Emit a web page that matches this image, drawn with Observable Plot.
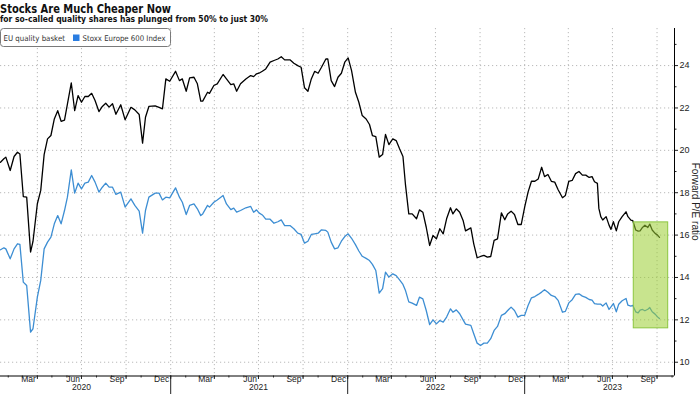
<!DOCTYPE html>
<html>
<head>
<meta charset="utf-8">
<script src="https://cdn.jsdelivr.net/npm/d3@7"></script>
<script src="https://cdn.jsdelivr.net/npm/@observablehq/plot@0.6"></script>
<style>
  html, body { margin: 0; padding: 0; background: #fff; }
  #wrap { position: relative; width: 700px; height: 394px; overflow: hidden; background: #fff; }
  #chart { position: absolute; left: 0; top: 28px; }
  #hdr { position: absolute; left: 0; top: 0; z-index: 2; pointer-events: none; }
</style>
</head>
<body>
<div id="wrap">
  <div id="chart"></div>
  <svg id="hdr" width="700" height="50"></svg>
</div>
<script>
// ---- data ----
const dates = [
"2020-01-16","2020-01-23","2020-01-27","2020-02-05","2020-02-13","2020-02-20","2020-02-25","2020-03-03","2020-03-10","2020-03-18",
"2020-03-23","2020-04-01","2020-04-08","2020-04-15","2020-04-22","2020-04-29","2020-05-06","2020-05-13","2020-05-20","2020-05-27",
"2020-06-02","2020-06-10","2020-06-17","2020-06-24","2020-07-01","2020-07-08","2020-07-15","2020-07-22","2020-07-29","2020-08-06",
"2020-08-13","2020-08-20","2020-08-27","2020-09-03","2020-09-10","2020-09-20","2020-09-29","2020-10-11","2020-10-19","2020-10-28",
"2020-11-04","2020-11-10","2020-11-17","2020-11-30","2020-12-08","2020-12-15","2020-12-22","2020-12-30","2021-01-11","2021-01-19",
"2021-01-25","2021-02-02","2021-02-09","2021-02-18","2021-02-25","2021-03-04","2021-03-08","2021-03-18","2021-03-22","2021-03-31",
"2021-04-07","2021-04-19","2021-04-26","2021-05-05","2021-05-11","2021-05-17","2021-05-25","2021-06-05","2021-06-15","2021-06-21",
"2021-06-27","2021-07-02","2021-07-09","2021-07-16","2021-07-25","2021-08-02","2021-08-10","2021-08-17","2021-08-24","2021-09-04",
"2021-09-12","2021-09-20","2021-09-27","2021-10-04","2021-10-11","2021-10-18","2021-10-25","2021-11-01","2021-11-08","2021-11-17",
"2021-11-21","2021-11-28","2021-12-05","2021-12-12","2021-12-19","2021-12-26","2022-01-02","2022-01-09","2022-01-17","2022-01-24",
"2022-01-31","2022-02-08","2022-02-15","2022-02-21","2022-02-28","2022-03-07","2022-03-14","2022-03-20","2022-03-27","2022-04-04",
"2022-04-11","2022-04-18","2022-04-25","2022-04-30","2022-05-07","2022-05-14","2022-05-23","2022-05-29","2022-06-05","2022-06-12",
"2022-06-19","2022-06-26","2022-07-03","2022-07-10","2022-07-17","2022-07-24","2022-08-01","2022-08-06","2022-08-13","2022-08-20",
"2022-08-27","2022-09-01","2022-09-12","2022-09-18","2022-09-25","2022-10-02","2022-10-09","2022-10-16","2022-10-23","2022-10-30",
"2022-11-06","2022-11-14","2022-11-21","2022-11-27","2022-12-04","2022-12-11","2022-12-18","2022-12-25","2023-01-01","2023-01-08",
"2023-01-15","2023-01-22","2023-01-29","2023-02-05","2023-02-11","2023-02-18","2023-02-25","2023-03-04","2023-03-11","2023-03-20",
"2023-03-26","2023-04-02","2023-04-09","2023-04-16","2023-04-23","2023-04-30","2023-05-07","2023-05-14","2023-05-20","2023-05-25",
"2023-05-31","2023-06-03","2023-06-07","2023-06-11","2023-06-18","2023-06-24","2023-06-28","2023-07-03","2023-07-09","2023-07-14",
"2023-07-21","2023-07-29","2023-08-02","2023-08-08","2023-08-12","2023-08-18","2023-08-23","2023-08-27","2023-09-01","2023-09-06",
"2023-09-12","2023-09-16","2023-09-21","2023-09-27","2023-10-02","2023-10-06"
];
const quality = [
19.44,19.60,19.68,19.05,19.71,19.91,19.83,17.82,17.79,15.20,
15.70,17.48,18.11,19.80,20.54,20.70,21.48,21.87,21.37,21.43,
22.18,23.18,21.87,22.58,22.27,22.54,22.54,22.69,22.35,21.83,
22.07,22.22,22.04,22.20,21.70,22.15,21.44,22.03,21.91,21.69,
20.34,21.56,22.07,22.10,22.03,21.96,23.37,23.26,23.73,23.29,
23.37,22.79,23.42,23.45,23.14,22.32,22.32,22.74,22.69,23.06,
23.14,23.58,23.37,23.10,23.14,22.79,23.14,23.37,23.53,23.48,
23.61,23.64,23.73,23.84,24.16,24.24,24.31,24.42,24.27,24.27,
24.11,24.00,23.92,22.95,22.79,23.37,23.73,23.64,23.92,24.31,
24.31,23.29,23.01,23.45,23.64,24.16,24.36,23.76,22.74,22.27,
21.64,21.48,21.22,20.70,20.65,19.68,19.80,20.75,20.27,20.54,
20.46,20.07,19.71,18.42,17.00,17.00,16.77,17.19,17.08,16.37,
15.51,15.98,15.82,16.30,16.06,16.77,17.29,17.00,17.24,17.08,
16.69,16.20,16.34,15.59,14.93,14.99,15.04,14.96,14.99,15.75,
15.82,17.05,16.72,17.00,17.13,16.97,16.50,16.50,17.32,18.03,
18.54,18.54,18.65,19.20,18.76,18.86,18.54,18.50,18.14,17.76,
17.87,18.54,18.58,18.90,19.00,18.83,18.83,18.72,18.76,18.52,
18.44,17.26,16.87,16.71,16.87,16.47,16.27,16.63,16.20,16.63,
16.87,17.10,16.87,16.71,16.68,16.24,16.19,16.20,16.36,16.47,
16.36,16.52,16.24,16.08,16.00,15.89
];
const stoxx = [
15.31,15.40,15.35,14.88,15.35,15.59,15.56,13.78,13.62,11.42,
11.58,13.07,13.86,15.35,15.67,15.90,16.53,16.92,16.53,17.16,
17.79,19.08,17.98,18.45,18.18,18.45,18.50,18.81,18.50,18.03,
18.26,18.45,18.26,18.26,17.92,18.03,17.32,17.71,17.40,17.13,
16.09,17.16,17.79,17.98,17.98,17.66,17.79,17.76,18.23,17.79,
17.55,16.97,17.40,17.47,17.24,16.92,17.00,17.40,17.32,17.55,
17.66,17.87,17.47,17.20,17.27,17.08,17.16,17.29,17.35,17.08,
17.19,17.05,16.95,16.75,16.75,16.56,16.63,16.72,16.45,16.45,
16.30,16.09,16.03,15.62,15.71,16.03,16.06,16.09,16.25,16.22,
16.14,15.67,15.35,15.40,15.71,15.93,16.06,15.85,15.55,15.25,
15.00,14.90,14.80,14.62,14.33,13.26,13.47,14.25,14.02,14.17,
14.09,13.89,13.67,13.40,12.85,12.79,12.68,13.07,12.99,12.44,
11.78,12.00,11.81,11.97,11.89,12.13,12.52,12.36,12.47,12.29,
12.00,11.80,11.74,11.34,10.90,10.79,10.90,10.90,11.11,11.50,
11.69,12.21,12.29,12.44,12.60,12.44,12.13,12.21,12.21,12.68,
13.04,13.10,13.20,13.31,13.42,13.30,13.15,13.10,12.92,12.36,
12.40,12.80,12.95,13.20,13.23,13.12,13.06,12.96,12.93,12.77,
12.74,12.74,12.74,12.65,12.80,12.49,12.61,12.77,12.38,12.74,
12.90,13.01,12.69,12.65,12.68,12.38,12.33,12.46,12.49,12.43,
12.50,12.58,12.38,12.27,12.14,12.06
];

const seriesNames = ["EU quality basket", "Stoxx Europe 600 Index"];
const yTicks = [10, 12, 14, 16, 18, 20, 22, 24];
const yMinorTicks = [11, 13, 15, 17, 19, 21, 23, 25];
const quarterLabels = ["Mar","Jun","Sep","Dec","Mar","Jun","Sep","Dec","Mar","Jun","Sep","Dec","Mar","Jun","Sep"];
const quarterEnds = ["2020-04-01","2020-07-01","2020-10-01","2021-01-01","2021-04-01","2021-07-01","2021-10-01","2022-01-01",
                     "2022-04-01","2022-07-01","2022-10-01","2023-01-01","2023-04-01","2023-07-01","2023-10-01"];
const yearLabels = ["2020","2021","2022","2023"];
const yearMids = ["2020-07-01","2021-07-01","2022-07-01","2023-07-01"];
const yearStarts = ["2021-01-01","2022-01-01","2023-01-01"];
const highlightDates = ["2023-08-14","2023-10-24"];
const highlightValues = [11.6, 16.6];
const xDomainDates = ["2020-01-16","2023-11-06"];
const yDomain = [9.35, 25.75];
const yAxisLabel = "Forward P/E ratio";
const titleText = "Stocks Are Much Cheaper Now";
const subtitleText = "for so-called quality shares has plunged from 50% to just 30%";

// ---- build ----
const parse = s => new Date(s + "T00:00:00Z");
const rows = dates.map((d, i) => ({date: parse(d), quality: quality[i], stoxx: stoxx[i]}));
const xDomain = xDomainDates.map(parse);
const qEnds = quarterEnds.map(parse);
const monthTicks = d3.utcMonth.range(xDomain[0], xDomain[1]);
const highlight = [{x1: parse(highlightDates[0]), x2: parse(highlightDates[1]), y1: highlightValues[0], y2: highlightValues[1]}];
const grid = "#b9b9b9";

const chart = Plot.plot({
  width: 700,
  height: 366,
  marginLeft: 0,
  marginRight: 26,
  marginTop: 0,
  marginBottom: 18.5,
  x: {type: "utc", domain: xDomain},
  y: {domain: yDomain},
  style: {fontFamily: "'Liberation Sans', Arial, sans-serif", fontSize: "8.5px", color: "#222", background: "#fff", overflow: "visible"},
  marks: [
    Plot.ruleY(yTicks, {stroke: grid, strokeDasharray: "1.2,2.8"}),
    Plot.ruleX(qEnds, {stroke: grid, strokeDasharray: "1.2,2.8"}),
    Plot.lineY(rows, {x: "date", y: "quality", stroke: "#000", strokeWidth: 1.3}),
    Plot.lineY(rows, {x: "date", y: "stoxx", stroke: "#3d8ed3", strokeWidth: 1.3}),
    Plot.rect(highlight, {x1: "x1", x2: "x2", y1: "y1", y2: "y2", fill: "#9acd32", fillOpacity: 0.55, stroke: "#8cc63f", strokeWidth: 1}),
    Plot.ruleY([yDomain[0]], {stroke: "#000", strokeWidth: 1}),
    Plot.ruleX([xDomain[1]], {stroke: "#000", strokeWidth: 1}),
    Plot.axisY({anchor: "right", ticks: yTicks, tickSize: 3, tickPadding: 2, label: null, tickFormat: d => String(d), fontSize: 9}),
    Plot.axisY({anchor: "right", ticks: yMinorTicks, tickSize: 1.5, label: null, tickFormat: () => ""}),
    Plot.axisX({ticks: monthTicks, tickSize: 2, label: null, tickFormat: () => ""}),
    Plot.axisX({ticks: qEnds, tickSize: 3.5, label: null, tickFormat: () => ""}),
    Plot.axisX({ticks: yearStarts.map(parse), tickSize: 18.5, label: null, tickFormat: () => ""}),
    Plot.text(qEnds, {x: d => d, text: (d, i) => quarterLabels[i], frameAnchor: "bottom", dy: 5.5, dx: -1.5, textAnchor: "end", fontSize: 8.5, fill: "#222"}),
    Plot.text(yearMids.map(parse), {x: d => d, text: (d, i) => yearLabels[i], frameAnchor: "bottom", dy: 14, textAnchor: "middle", fontSize: 8.5, fill: "#222"}),
    Plot.text([yAxisLabel], {x: () => xDomain[1], y: () => 17.58, text: d => d, rotate: 90, dx: 21, fontSize: 10, fill: "#222"})
  ]
});
document.getElementById("chart").appendChild(chart);

// ---- header: title, subtitle, legend ----
const hdr = d3.select("#hdr");
hdr.append("text").attr("x", 0).attr("y", 12.7)
  .attr("font-family", "'DejaVu Sans', Verdana, sans-serif").attr("font-weight", "bold").attr("font-size", 12)
  .attr("textLength", 171).attr("lengthAdjust", "spacingAndGlyphs").attr("fill", "#111").text(titleText);
hdr.append("text").attr("x", 0).attr("y", 22.3)
  .attr("font-family", "'DejaVu Sans', Verdana, sans-serif").attr("font-weight", "bold").attr("font-size", 8.8)
  .attr("textLength", 268).attr("lengthAdjust", "spacingAndGlyphs").attr("fill", "#111").text(subtitleText);
hdr.append("rect").attr("x", 0.5).attr("y", 28.5).attr("width", 170).attr("height", 18).attr("rx", 3)
  .attr("fill", "#fff").attr("stroke", "#7a7a7a").attr("stroke-width", 1);
hdr.append("text").attr("x", 3.5).attr("y", 40.6)
  .attr("font-family", "'DejaVu Sans', Verdana, sans-serif").attr("font-size", 7.8)
  .attr("textLength", 61.5).attr("lengthAdjust", "spacingAndGlyphs").attr("fill", "#333").text(seriesNames[0]);
hdr.append("rect").attr("x", 73).attr("y", 34.5).attr("width", 6.5).attr("height", 6.5).attr("fill", "#2a7de1");
hdr.append("text").attr("x", 82.5).attr("y", 40.6)
  .attr("font-family", "'DejaVu Sans', Verdana, sans-serif").attr("font-size", 7.8)
  .attr("textLength", 83).attr("lengthAdjust", "spacingAndGlyphs").attr("fill", "#333").text(seriesNames[1]);
</script>
</body>
</html>
